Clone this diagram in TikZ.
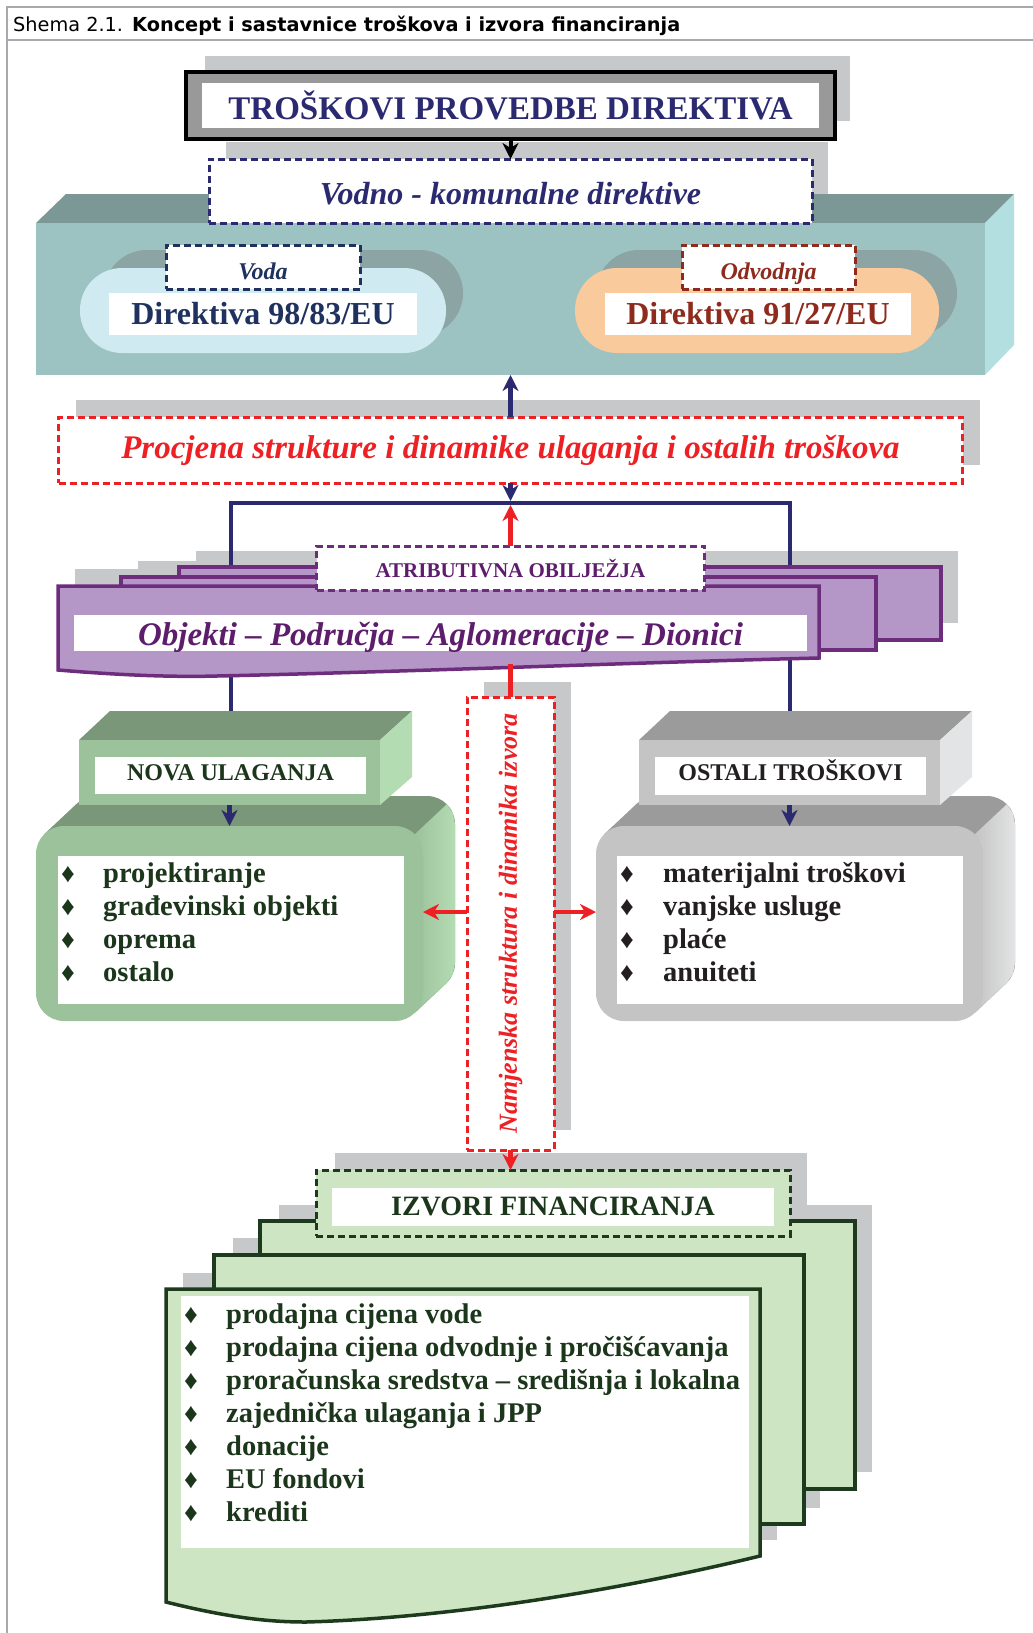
\documentclass[tikz,border=0pt]{standalone}
\usepackage{fontspec}
\usepackage{graphicx}
\setmainfont{Liberation Serif}
\newfontfamily\capsans{DejaVu Sans}
\usetikzlibrary{arrows.meta}

\definecolor{navyc}{HTML}{2B2A70}
\definecolor{shadowc}{HTML}{C7C8CA}
\definecolor{framec}{HTML}{999999}
\definecolor{tealfront}{HTML}{9CC2C1}
\definecolor{tealtop}{HTML}{7B9896}
\definecolor{tealside}{HTML}{B4DFE0}
\definecolor{capshad}{HTML}{8CA4A3}
\definecolor{capblue}{HTML}{CFEAF1}
\definecolor{cappeach}{HTML}{F8CA9C}
\definecolor{dirblue}{HTML}{1F325F}
\definecolor{dirred}{HTML}{8E2B1C}
\definecolor{redc}{HTML}{ED2024}
\definecolor{purfill}{HTML}{B597C7}
\definecolor{puredge}{HTML}{6E2C7D}
\definecolor{purtext}{HTML}{5E1D6C}
\definecolor{gfront}{HTML}{9CC29B}
\definecolor{gtop}{HTML}{7A977A}
\definecolor{gside}{HTML}{B4DCB3}
\definecolor{gtext}{HTML}{1B361B}
\definecolor{hfront}{HTML}{C4C4C4}
\definecolor{htop}{HTML}{9B9B9B}
\definecolor{hside}{HTML}{E3E4E5}
\definecolor{htext}{HTML}{231F20}
\definecolor{pagec}{HTML}{CDE5C3}
\definecolor{pageedge}{HTML}{1D3A1D}
\definecolor{caplinec}{HTML}{A7A9AC}

\newcommand{\myfs}[1]{\fontsize{#1pt}{#1pt}\selectfont}

\tikzset{
  shadowfill/.style={fill=shadowc},
  box/.style={inner sep=0pt, outer sep=0pt},
  dashbox/.style={box, draw=#1, line width=3pt, dash pattern=on 7pt off 4pt},
  conn/.style={line width=4.5pt},
  arr/.style={conn, -{Stealth[length=16pt,width=16pt,inset=5pt]}},
  purlayer/.style={fill=purfill, draw=puredge, line width=3.5pt},
  pagebox/.style={fill=pagec, draw=pageedge, line width=3.5pt},
  bulletmark/.style={anchor=base, inner sep=0pt, font=\myfs{27}},
  itemtext/.style={anchor=base west, inner sep=0pt, font=\myfs{28.5}\bfseries},
}

\newcommand{\cubepair}[4]{%
  \fill[#3, rounded corners=28pt] (68,796) rectangle (455,991);
  \fill[#3] (44.2,834.2) -- (76.2,804.2) -- (446.8,982.8) -- (414.8,1012.8) -- cycle;
  \shade[left color=#2, right color=#4] (414.8,834.2) -- (446.8,804.2) -- (452.9,813.3) -- (455,824) -- (455,963) -- (452.9,973.7) -- (446.8,982.8) -- (414.8,1012.8) -- cycle;
  \node[box, fill=#2, rounded corners=28pt, minimum width=387pt, minimum height=195pt] (#1B) at (229.5,923.5) {};
  \fill[#3] (79,740) -- (110,711) -- (412,711) -- (380,740) -- cycle;
  \fill[#4] (380,740) -- (412,711) -- (412,777) -- (380,805) -- cycle;
  \node[box, fill=#2, minimum width=301pt, minimum height=65pt] (#1S) at (229.5,772.5) {};
}

\begin{document}
\begin{tikzpicture}[x=1pt,y=-1pt]
\useasboundingbox[fill=white] (0,0) rectangle (1033,1633);

% caption
\draw[caplinec, line width=2pt] (1033,7) -- (7,7) -- (7,1633);
\draw[caplinec, line width=2pt] (7,40) -- (1033,40);
\node[anchor=base west, inner sep=0pt, font=\capsans\myfs{19.3}] (cap) at (13,31) {Shema 2.1.\hspace{9pt}\bfseries Koncept i sastavnice troškova i izvora financiranja};

% TROSKOVI
\fill[shadowfill] (205,56) rectangle (850,121);
\node[box, draw=black, line width=4pt, fill=framec, minimum width=649pt, minimum height=67pt] (trosk) at (510.5,105.5) {};
\node[box, fill=white, minimum width=617pt, minimum height=45pt, text=navyc, font=\myfs{33}\bfseries] (troskT) at (510.5,105.5) {TROŠKOVI PROVEDBE DIREKTIVA};

% teal block
\fill[shadowfill] (226,142) rectangle (828,200);
\fill[tealtop] (36,223) -- (66,194) -- (1014,194) -- (985,223) -- cycle;
\fill[tealside] (985,223) -- (1014,194) -- (1014,345) -- (985,375) -- cycle;
\node[box, fill=tealfront, minimum width=949pt, minimum height=152pt] (teal) at (510.5,299) {};
\node[dashbox=navyc, fill=white, minimum width=603pt, minimum height=64pt, text height=26pt, text depth=0pt, text=navyc, font=\myfs{32}\bfseries\itshape] (vodno) at (510.5,191) {Vodno - komunalne direktive};
\draw[arr, black, line width=4pt] (trosk.south) -- (vodno.north);

% capsules
\fill[capshad, rounded corners=43pt] (104,250) rectangle (463,336);
\fill[capblue, rounded corners=42pt] (80,268) rectangle (446,353);
\node[box, fill=white, minimum width=308pt, minimum height=42pt, text height=20pt, text depth=0pt, text=dirblue, font=\myfs{32}\bfseries] (dir1) at (263,314) {Direktiva 98/83/EU};
\node[dashbox=dirblue, fill=white, minimum width=194pt, minimum height=44pt, text height=24pt, text depth=0pt, text=dirblue, font=\myfs{24}\bfseries\itshape] (voda) at (263,267) {Voda};
\fill[capshad, rounded corners=43pt] (596,250) rectangle (957,336);
\fill[cappeach, rounded corners=42pt] (575,268) rectangle (939,353);
\node[box, fill=white, minimum width=306pt, minimum height=42pt, text height=20pt, text depth=0pt, text=dirred, font=\myfs{32}\bfseries] (dir2) at (758,314) {Direktiva 91/27/EU};
\node[dashbox=dirred, fill=white, minimum width=173pt, minimum height=44pt, text height=24pt, text depth=0pt, text=dirred, font=\myfs{24}\bfseries\itshape] (odv) at (768.5,267) {Odvodnja};

% Procjena
\fill[shadowfill] (76,400) rectangle (980,465);
\node[dashbox=redc, fill=white, minimum width=904pt, minimum height=66pt, text height=16pt, text depth=0pt, text=redc, font=\myfs{33}\bfseries\itshape] (procjena) at (510.5,450) {Procjena strukture i dinamike ulaganja i ostalih troškova};
\draw[arr, navyc] (procjena.north) -- (teal.south);

% purple shadows
\fill[shadowfill] (196,551) rectangle (958,623);
\fill[shadowfill] (138,561) rectangle (893,634);
\fill[shadowfill] (75,569) rectangle (836,645);

% navy bracket
\coordinate (junc) at (510.5,503);
\coordinate (bl) at (231,503);
\coordinate (br) at (790,503);
\coordinate (nuTop) at (231,712);
\coordinate (otTop) at (790,712);
\draw[conn, navyc] (nuTop) -- (bl) -- (br) -- (otTop);
\draw[arr, navyc, shorten >=2pt] (procjena.south) -- (junc);

% purple layers
\draw[purlayer] (179,567) rectangle (941,640);
\draw[purlayer] (121,577) rectangle (876,650);
\draw[purlayer] (58,586) -- (819,586) -- (819,658) .. controls (650,662) and (400,672) .. (217,676) .. controls (180,677) and (130,676) .. (58,670) -- cycle;
\node[box, fill=white, minimum width=733pt, minimum height=36pt, text height=24pt, text depth=0pt, text=purtext, font=\myfs{33}\bfseries\itshape] (objekti) at (440.5,633) {Objekti – Područja – Aglomeracije – Dionici};
\node[dashbox=puredge, fill=white, minimum width=388pt, minimum height=44pt, text height=18pt, text depth=0pt, text=purtext, font=\myfs{21}\bfseries] (atrib) at (510.5,568) {ATRIBUTIVNA OBILJEŽJA};
\draw[arr, redc, shorten >=2pt] (atrib.north) -- (junc);

% Namjenska
\fill[shadowfill] (484,682) rectangle (571,1130);
\node[dashbox=redc, fill=white, minimum width=87pt, minimum height=453pt] (namj) at (510.5,923.5) {};
\node[inner sep=0pt, rotate=90, text=redc, font=\myfs{26}\bfseries\itshape] (namjT) at (namj.center) {Namjenska struktura i dinamika izvora};
\coordinate (objbot) at (510.5,664);
\draw[conn, redc] (objbot) -- (namj.north);

% 3D boxes
\begin{scope}\cubepair{nu}{gfront}{gtop}{gside}\end{scope}
\begin{scope}[xshift=560pt]\cubepair{ot}{hfront}{htop}{hside}\end{scope}

\node[box, fill=white, minimum width=346pt, minimum height=148pt] (nuW) at (231,930) {};
\node[box, fill=white, minimum width=271pt, minimum height=37pt, text height=10.5pt, text depth=0pt, text=gtext, font=\myfs{24}\bfseries] (nuL) at (230.5,775.5) {NOVA ULAGANJA};
\draw[arr, navyc] (nuS.south) -- (nuB.north);
\node[box, fill=white, minimum width=346pt, minimum height=148pt] (otW) at (790,930) {};
\node[box, fill=white, minimum width=271pt, minimum height=38pt, text height=9.5pt, text depth=0pt, text=htext, font=\myfs{24}\bfseries] (otL) at (790.5,776) {OSTALI TROŠKOVI};
\draw[arr, navyc] (otS.south) -- (otB.north);

\foreach \t [count=\i from 0] in {projektiranje, građevinski objekti, oprema, ostalo} {
  \node[bulletmark, text=gtext] (nb\i) at (68,{882+33*\i}) {♦};
  \node[itemtext, text=gtext] (ni\i) at (103,{882+33*\i}) {\t};
}
\foreach \t [count=\i from 0] in {materijalni troškovi, vanjske usluge, plaće, anuiteti} {
  \node[bulletmark, text=htext] (ob\i) at (627,{882+33*\i}) {♦};
  \node[itemtext, text=htext] (oi\i) at (663,{882+33*\i}) {\t};
}

\draw[arr, redc] ([yshift=11.5pt]namj.west) -- ([yshift=11.5pt]nuB.east);
\draw[arr, redc] ([yshift=11.5pt]namj.east) -- ([yshift=11.5pt]otB.west);

% IZVORI
\fill[shadowfill] (335,1153) rectangle (807,1208);
\fill[shadowfill] (279,1205) rectangle (872,1472);
\fill[shadowfill] (233,1238) rectangle (820,1508);
\fill[shadowfill] (183,1273) rectangle (777,1540);
\draw[pagebox] (260,1221) rectangle (855,1489);
\draw[pagebox] (214,1255) rectangle (804,1524);
\draw[pagebox] (166,1289) -- (760,1289) -- (760,1556) .. controls (620,1590) and (450,1618) .. (306,1622) .. controls (270,1622) and (230,1618) .. (166,1602) -- cycle;
\node[box, fill=white, minimum width=568pt, minimum height=252pt] (izW) at (465,1422) {};
\node[dashbox=pageedge, fill=pagec, minimum width=474pt, minimum height=66pt] (izvori) at (553,1203) {};
\node[box, fill=white, minimum width=442pt, minimum height=38pt, text height=16pt, text depth=0pt, text=gtext, font=\myfs{28}\bfseries] (izvoriT) at (553,1207) {IZVORI FINANCIRANJA};
\draw[arr, redc] (namj.south) -- (namj.south |- izvori.north);

\foreach \t [count=\i from 0] in {prodajna cijena vode, prodajna cijena odvodnje i pročišćavanja, proračunska sredstva – središnja i lokalna, zajednička ulaganja i JPP, donacije, EU fondovi, krediti} {
  \node[bulletmark, text=gtext] (ib\i) at (191,{1323+33*\i}) {♦};
  \node[itemtext, text=gtext] (ii\i) at (226,{1323+33*\i}) {\t};
}
\end{tikzpicture}
\end{document}
